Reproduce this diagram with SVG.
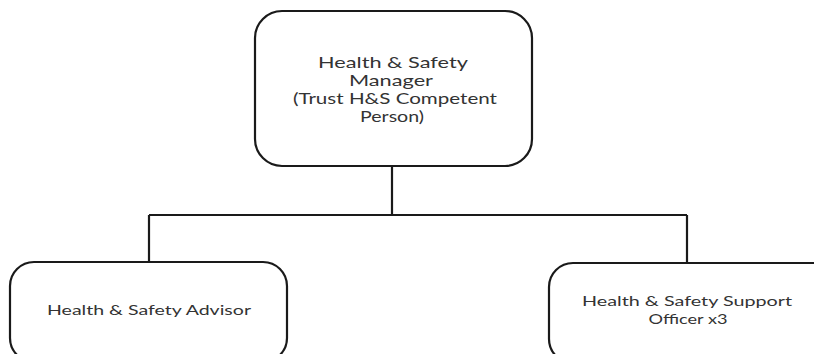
<svg xmlns="http://www.w3.org/2000/svg" width="814" height="354" viewBox="0 0 814 354">
<style>
.box{fill:#fff;stroke:#1a1a1a;stroke-width:2.2}
.con{fill:none;stroke:#1a1a1a;stroke-width:2.2}
text{font-family:Lato,"Open Sans","DejaVu Sans",sans-serif;fill:#333;text-anchor:middle}
.t1{font-size:15px}
.t2{font-size:14px}
</style>
<rect width="814" height="354" fill="#fff"/>
<g id="connectors">
<path class="con" d="M392 166 V215 M149 215 H687 M149 215 V262 M687 215 V263"/>
</g>
<g id="manager">
<rect class="box" x="255" y="11" width="277" height="155" rx="27" ry="27"/>
<text class="t1" x="393" y="68" textLength="150" lengthAdjust="spacingAndGlyphs">Health &amp; Safety</text>
<text class="t1" x="391" y="86" textLength="84" lengthAdjust="spacingAndGlyphs">Manager</text>
<text class="t1" x="395" y="104" textLength="204" lengthAdjust="spacingAndGlyphs">(Trust H&amp;S Competent</text>
<text class="t1" x="392" y="122" textLength="64" lengthAdjust="spacingAndGlyphs">Person)</text>
</g>
<g id="advisor">
<rect class="box" x="10" y="262" width="277" height="100" rx="24" ry="24"/>
<text class="t2" x="149" y="315" textLength="204" lengthAdjust="spacingAndGlyphs">Health &amp; Safety Advisor</text>
</g>
<g id="support">
<rect class="box" x="549" y="263" width="290" height="100" rx="24" ry="24"/>
<text class="t2" x="687" y="306" textLength="210" lengthAdjust="spacingAndGlyphs">Health &amp; Safety Support</text>
<text class="t2" x="688" y="324" textLength="79" lengthAdjust="spacingAndGlyphs">Officer x3</text>
</g>
</svg>
